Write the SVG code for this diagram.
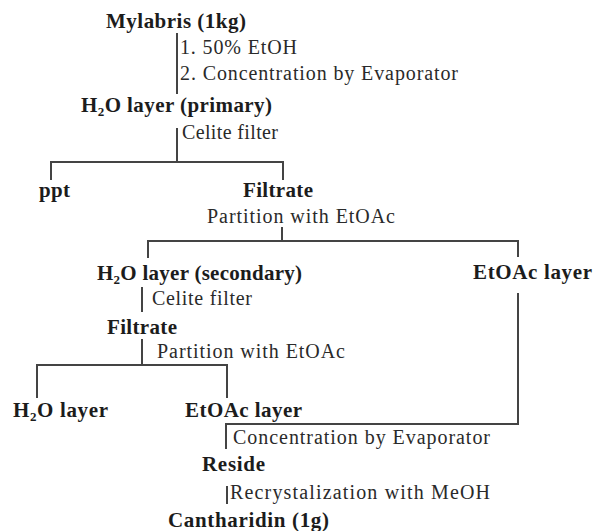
<svg xmlns="http://www.w3.org/2000/svg" width="595" height="531" viewBox="0 0 595 531">
<style>
.n{font-family:"Liberation Serif","Times New Roman",serif;font-weight:bold;font-size:21px;fill:#1c1c1c}
.l{font-family:"Liberation Serif","Times New Roman",serif;font-size:20px;fill:#2a2a2a}
.s{font-size:13px}
#connectors path{fill:none;stroke:#444;stroke-width:2}
</style>
<rect width="595" height="531" fill="#fff"/>
<g id="connectors">
<path d="M177,33 V94"/>
<path d="M177,128 V162"/>
<path d="M51,180 V162 H283 V180"/>
<path d="M282,227 V241"/>
<path d="M148,258 V241 H518 V257"/>
<path d="M142,287 V312"/>
<path d="M142,339 V365"/>
<path d="M37,398 V365 H227 V398"/>
<path d="M518,293 V424 H226 V449"/>
<path d="M227,486 V504"/>
</g>
<g id="labels">
<text class="l" x="180" y="54" textLength="117">1. 50% EtOH</text>
<text class="l" x="180" y="80" textLength="278">2. Concentration by Evaporator</text>
<text class="l" x="182" y="139" textLength="96">Celite filter</text>
<text class="l" x="207" y="223" textLength="188">Partition with EtOAc</text>
<text class="l" x="152" y="305" textLength="100">Celite filter</text>
<text class="l" x="157" y="358" textLength="188">Partition with EtOAc</text>
<text class="l" x="233" y="444" textLength="257">Concentration by Evaporator</text>
<text class="l" x="230" y="499" textLength="260">Recrystalization with MeOH</text>
</g>
<g id="mylabris"><text class="n" x="106" y="28" textLength="140">Mylabris (1kg)</text></g>
<g id="h2o-primary"><text class="n" x="81" y="112" textLength="191">H<tspan class="s" dy="4">2</tspan><tspan dy="-4">O layer (primary)</tspan></text></g>
<g id="ppt"><text class="n" x="39" y="197" textLength="31">ppt</text></g>
<g id="filtrate-1"><text class="n" x="243" y="197" textLength="70">Filtrate</text></g>
<g id="h2o-secondary"><text class="n" x="97" y="280" textLength="205">H<tspan class="s" dy="4">2</tspan><tspan dy="-4">O layer (secondary)</tspan></text></g>
<g id="etoac-layer-1"><text class="n" x="473" y="279" textLength="119">EtOAc layer</text></g>
<g id="filtrate-2"><text class="n" x="107" y="334" textLength="70">Filtrate</text></g>
<g id="h2o-layer"><text class="n" x="13" y="417" textLength="95">H<tspan class="s" dy="4">2</tspan><tspan dy="-4">O layer</tspan></text></g>
<g id="etoac-layer-2"><text class="n" x="185" y="417" textLength="117">EtOAc layer</text></g>
<g id="reside"><text class="n" x="202" y="471" textLength="63">Reside</text></g>
<g id="cantharidin"><text class="n" x="168" y="527" textLength="161">Cantharidin (1g)</text></g>
</svg>
